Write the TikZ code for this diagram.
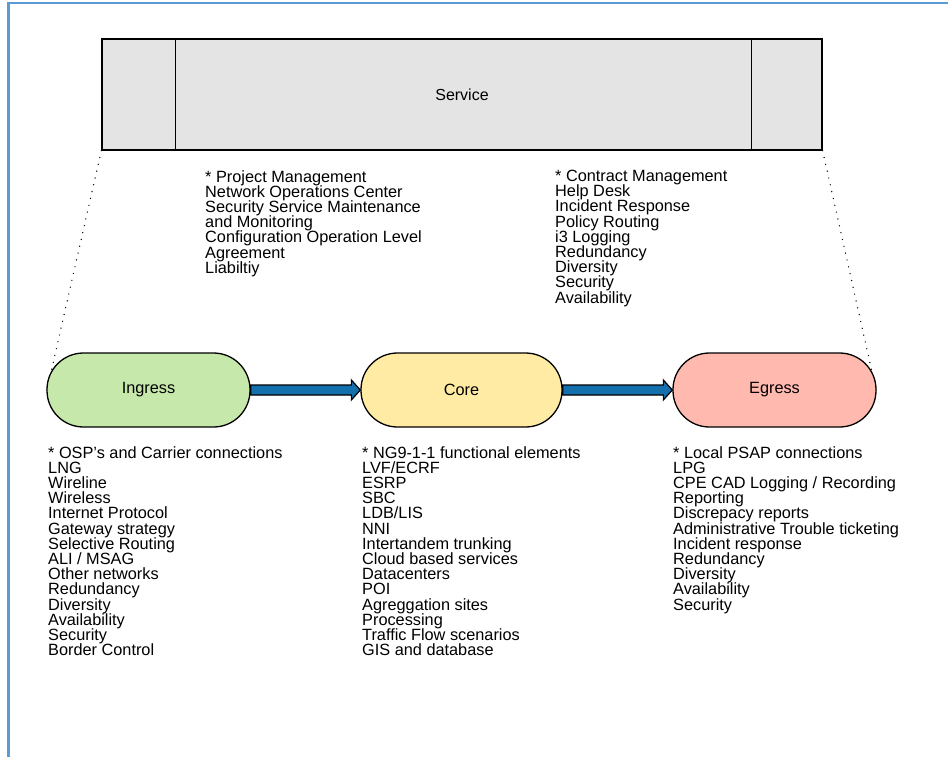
\documentclass[tikz,border=0pt]{standalone}
\usepackage{fontspec}
\setmainfont{Liberation Sans}
\usetikzlibrary{calc}
\definecolor{frameblue}{HTML}{5B9BD5}
\definecolor{svcgray}{HTML}{E4E4E4}
\definecolor{inggreen}{HTML}{C6E8AA}
\definecolor{coreyellow}{HTML}{FFEBA3}
\definecolor{egrpink}{HTML}{FFB9AF}
\definecolor{arrowblue}{HTML}{146FAD}
\begin{document}
\begin{tikzpicture}[x=1pt,y=-1pt,
  pill/.style={draw=black, line width=1.3pt, rounded corners=36.5pt, minimum width=203pt, minimum height=74pt, inner sep=0pt, font=\fontsize{16.3}{18}\selectfont},
  svcbox/.style={draw=black, line width=1.3pt, fill=svcgray, minimum width=720pt, minimum height=111pt, inner sep=0pt, font=\fontsize{16}{18}\selectfont},
  listtext/.style={anchor=north west, inner sep=0pt, align=left, font=\fontsize{16.3}{15.2}\selectfont},
  dotline/.style={line width=1.4pt, dash pattern=on 0pt off 7pt, line cap=round},
  flowarrow/.style={draw=black, line width=1.2pt, fill=arrowblue, line join=miter}
]
\useasboundingbox (0,0) rectangle (948,756);
% frame
\draw[frameblue, line width=2.5pt] (8.5,757) -- (8.5,3) -- (950,3);
% service box
\node[svcbox] (svc) at (462,94.5) {Service};
\draw[line width=1.3pt] ($(svc.north west)+(74,0)$) -- ($(svc.south west)+(74,0)$);
\draw[line width=1.3pt] ($(svc.north east)+(-71,0)$) -- ($(svc.south east)+(-71,0)$);
% pill coordinates
\coordinate (ingc) at (148.5,390);
\coordinate (corec) at (461.5,390);
\coordinate (egrc) at (774.5,390);
\draw[dotline] (svc.south west) -- ($(ingc)+(-101.5,0)$);
\draw[dotline] (svc.south east) -- ($(egrc)+(101.5,0)$);
% pills
\node[pill, fill=inggreen] (ing) at (ingc) {Ingress};
\node[pill, fill=coreyellow, minimum width=201pt] (core) at (corec) {Core};
\node[pill, fill=egrpink] (egr) at (egrc) {Egress};
% arrows
\draw[flowarrow] ($(ing.east)+(0,-5)$) -- ($(core.west)+(-9,-5)$) -- ($(core.west)+(-9,-10)$) -- (core.west) -- ($(core.west)+(-9,10)$) -- ($(core.west)+(-9,5)$) -- ($(ing.east)+(0,5)$) -- cycle;
\draw[flowarrow] ($(core.east)+(0,-5)$) -- ($(egr.west)+(-9,-5)$) -- ($(egr.west)+(-9,-10)$) -- (egr.west) -- ($(egr.west)+(-9,10)$) -- ($(egr.west)+(-9,5)$) -- ($(core.east)+(0,5)$) -- cycle;
% upper lists
\node[listtext] (pm) at (205,170) {* Project Management\\Network Operations Center\\Security Service Maintenance\\and Monitoring\\Configuration Operation Level\\Agreement\\Liabiltiy};
\node[listtext] (cm) at (555,170) {* Contract Management\\Help Desk\\Incident Response\\Policy Routing\\i3 Logging\\Redundancy\\Diversity\\Security\\Availability};
% lower lists
\node[listtext] (il) at (48,446) {* OSP's and Carrier connections\\LNG\\Wireline\\Wireless\\Internet Protocol\\Gateway strategy\\Selective Routing\\ALI / MSAG\\Other networks\\Redundancy\\Diversity\\Availability\\Security\\Border Control};
\node[listtext] (cl) at (362,446) {* NG9-1-1 functional elements\\LVF/ECRF\\ESRP\\SBC\\LDB/LIS\\NNI\\Intertandem trunking\\Cloud based services\\Datacenters\\POI\\Agreggation sites\\Processing\\Traffic Flow scenarios\\GIS and database};
\node[listtext] (el) at (673,446) {* Local PSAP connections\\LPG\\CPE CAD Logging / Recording\\Reporting\\Discrepacy reports\\Administrative Trouble ticketing\\Incident response\\Redundancy\\Diversity\\Availability\\Security};
\end{tikzpicture}
\end{document}
